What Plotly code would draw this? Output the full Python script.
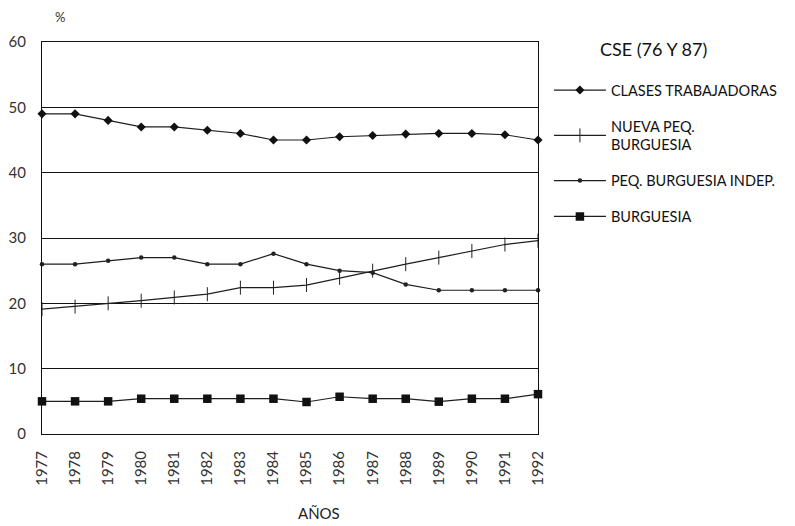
import plotly.graph_objects as go

years = list(range(1977, 1993))
year_labels = [str(y) for y in years]

clases_trabajadoras = [49.0, 49.0, 48.0, 47.0, 47.0, 46.5, 46.0, 45.0, 45.0, 45.5, 45.7, 45.9, 46.0, 46.0, 45.8, 45.0]
nueva_peq_burguesia = [19.1, 19.5, 20.0, 20.4, 20.9, 21.4, 22.4, 22.4, 22.8, 23.9, 25.0, 26.0, 27.0, 28.0, 29.0, 29.6]
peq_burguesia_indep = [26.0, 26.0, 26.5, 27.0, 27.0, 26.0, 26.0, 27.6, 26.0, 25.0, 24.7, 22.9, 22.0, 22.0, 22.0, 22.0]
burguesia = [5.0, 5.0, 5.0, 5.4, 5.4, 5.4, 5.4, 5.4, 4.9, 5.7, 5.4, 5.4, 4.95, 5.4, 5.4, 6.1]

names = ["CLASES TRABAJADORAS", "NUEVA PEQ.<br>BURGUESIA", "PEQ. BURGUESIA INDEP.", "BURGUESIA"]
series = [clases_trabajadoras, nueva_peq_burguesia, peq_burguesia_indep, burguesia]
markers = [
    dict(symbol="diamond", size=7, color="#111"),
    dict(symbol="line-ns-open", size=10, color="#222", line=dict(width=1, color="#333")),
    dict(symbol="circle", size=4.5, color="#222"),
    dict(symbol="square", size=8.5, color="#111"),
]

FONT = "Lato, Open Sans, sans-serif"
fig = go.Figure()
for i, (n, s, m) in enumerate(zip(names, series, markers)):
    fig.add_trace(go.Scatter(
        x=years, y=s, name=n, mode="lines+markers",
        line=dict(color="#1e1e1e", width=1.2), marker=m,
        cliponaxis=False, legendgroup=str(i),
    ))

fig.update_layout(
    width=787, height=518,
    margin=dict(l=34, r=255, t=34, b=92),
    paper_bgcolor="white", plot_bgcolor="white",
    font=dict(family=FONT, color="#222"),
    showlegend=True,
    legend=dict(
        x=1.022, y=0.918, xanchor="left", yanchor="top",
        font=dict(size=14.5, color="#111"),
        tracegroupgap=14, itemwidth=52,
    ),
    xaxis=dict(
        range=[1977, 1992], tickmode="array", tickvals=years, ticktext=year_labels,
        tickangle=-90, showgrid=False, zeroline=False, automargin=False,
        showline=True, linecolor="#111", linewidth=1, mirror=True,
        ticks="", ticklabelstandoff=10, tickfont=dict(size=15, color="#333"),
    ),
    yaxis=dict(
        range=[0, 60], tickvals=[0, 10, 20, 30, 40, 50, 60],
        showgrid=True, gridcolor="#111", gridwidth=1, zeroline=False, automargin=False,
        showline=True, linecolor="#111", linewidth=1, mirror=True,
        ticks="", ticklabelstandoff=12, tickfont=dict(size=15, color="#333"),
    ),
    annotations=[
        dict(text="%", x=0.022, y=1.089, xref="paper", yref="paper", showarrow=False,
             font=dict(size=13, color="#333")),
        dict(text="CSE (76 Y 87)", x=1.12, y=1.015, xref="paper", yref="paper",
             xanchor="left", showarrow=False, font=dict(size=18, color="#111")),
        dict(text="AÑOS", x=0.558, y=-0.23, xref="paper", yref="paper", showarrow=False,
             font=dict(size=15, color="#222")),
    ],
)

fig.write_html("out.html")
